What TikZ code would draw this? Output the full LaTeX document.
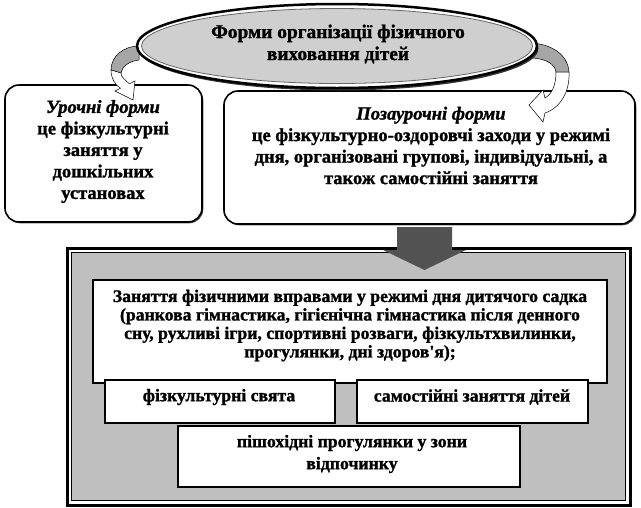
\documentclass[tikz,border=0pt]{standalone}
\usepackage{fontspec}
\setmainfont{Liberation Serif}[BoldFeatures={FakeBold=1.3}, BoldItalicFeatures={FakeBold=1.3}]
\usetikzlibrary{shapes.geometric,shadows}
\newcommand{\straightapos}{\XeTeXglyph\XeTeXcharglyph"27\relax}
\begin{document}
\begin{tikzpicture}[x=1pt,y=-1pt,
  rbox/.style={draw=black, line width=1.6pt, fill=white, rounded corners=14pt,
    drop shadow={shadow xshift=1.3pt, shadow yshift=-1.3pt, fill=black!70, opacity=1}},
  sbox/.style={draw=black, line width=1.6pt, fill=white,
    drop shadow={shadow xshift=1.3pt, shadow yshift=-1.3pt, fill=black!70, opacity=1}},
  txt/.style={font=\bfseries\fontsize{18.5}{21.5}\selectfont, align=center, inner sep=0pt},
  txtb/.style={font=\bfseries\fontsize{17.7}{18.5}\selectfont, align=center, inner sep=0pt},
  curl back/.style={fill=black!35, draw=black, line width=0.5pt},
  curl front/.style={fill=white, draw=black, line width=0.5pt}
]
\useasboundingbox (0,0) rectangle (641,507);

% top boxes
\node[rbox, minimum width=197pt, minimum height=137pt] (lbox) at (103.5,153.5) {};
\node[rbox, minimum width=411pt, minimum height=133pt] (rbox) at (429.5,157.5) {};

% curled arrows (behind ellipse)
\fill[curl back] (139,46) .. controls (124,46) and (111,56) .. (111,70) -- (121,73) .. controls (122,66) and (130,61) .. (139,60) -- cycle;
\fill[curl front] (111,70) .. controls (111,78) and (115,85) .. (120.5,88.2) -- (115,91) -- (133,100) -- (135,81) -- (129.5,83.8) .. controls (125,80) and (121,77) .. (121,73) -- cycle;

\fill[curl back] (531,43) .. controls (552,44) and (568,55) .. (569,72) -- (556,72) .. controls (555,64) and (546,59) .. (533,58) -- cycle;
\fill[curl front] (569,72) .. controls (570,92) and (560,108) .. (545,113) -- (543,122) -- (529,105) -- (543,90) -- (545,98) .. controls (552,94) and (556,85) .. (556,72) -- cycle;

% title ellipse
\node[ellipse, draw=black, line width=2.5pt, fill=white, minimum width=400pt, minimum height=84pt,
  drop shadow={shadow xshift=1.5pt, shadow yshift=-2.5pt, fill=black!80, opacity=1}] (title) at (337,46) {};
\fill[black!19, draw=black!60, line width=0.8pt] (title.center) ellipse [x radius=195.5, y radius=37.5];
\node[txt, font=\bfseries\fontsize{19.4}{22}\selectfont] (titletext) at (338,44) {Форми організації фізичного\\виховання дітей};

\node[txt] (ltext) at (103,151.5) {\textit{Урочні форми}\\це фізкультурні\\заняття у\\дошкільних\\установах};
\node[txt] (rtext) at (431,145.5) {\textit{Позаурочні форми}\\це фізкультурно-оздоровчі заходи у режимі\\дня, організовані групові, індивідуальні, а\\також самостійні заняття};

% container
\node[draw=black, line width=3pt, fill=white, minimum width=563pt, minimum height=257pt] (cont) at (348.5,376.5) {};
\node[draw=black, line width=0.8pt, fill=black!25, minimum width=554pt, minimum height=248pt] (conti) at (348.5,376.5) {};

% big arrow
\fill[black!68] (397,227) -- (452,227) -- (452,250) -- (466,250) -- (424.5,270) -- (383,250) -- (397,250) -- cycle;

% inner boxes
\node[sbox, minimum width=514pt, minimum height=103pt] (big) at (350,331.5) {};
\node[txtb] (bigtext) at (350,325.5) {Заняття фізичними вправами у режимі дня дитячого садка\\(ранкова гімнастика, гігієнічна гімнастика після денного\\сну, рухливі ігри, спортивні розваги, фізкультхвилинки,\\прогулянки, дні здоров\straightapos я);};
\node[sbox, minimum width=230pt, minimum height=43pt] (fiz) at (220,401.5) {};
\node[txtb] (fiztext) at (219,397) {фізкультурні свята};
\node[sbox, minimum width=231pt, minimum height=43pt] (sam) at (472.5,401.5) {};
\node[txtb] (samtext) at (472,397) {самостійні заняття дітей};
\node[sbox, minimum width=342pt, minimum height=61pt] (pish) at (349,456.5) {};
\node[txtb, font=\bfseries\fontsize{17.7}{22}\selectfont] (pishtext) at (352,454) {пішохідні прогулянки у зони\\відпочинку};
\end{tikzpicture}
\end{document}
